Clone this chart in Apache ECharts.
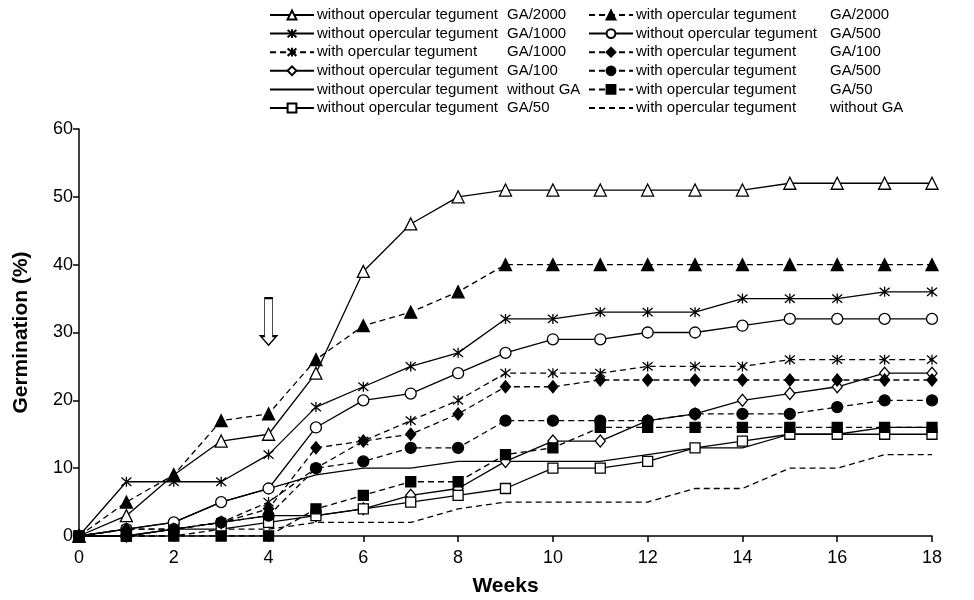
<!DOCTYPE html>
<html>
<head>
<meta charset="utf-8">
<script src="https://cdn.jsdelivr.net/npm/echarts@6/dist/echarts.min.js"></script>
<style>html,body{margin:0;padding:0;background:#fff}#c{width:974px;height:600px}</style>
</head>
<body>
<div id="c"></div>
<script>
const weeks = [0,1,2,3,4,5,6,7,8,9,10,11,12,13,14,15,16,17,18];
const xTicks = [0,2,4,6,8,10,12,14,16,18];
const yTicks = [0,10,20,30,40,50,60];

const withoutGA2000 = [0,3,9,14,15,24,39,46,50,51,51,51,51,51,51,52,52,52,52];
const withGA2000    = [0,5,9,17,18,26,31,33,36,40,40,40,40,40,40,40,40,40,40];
const withoutGA1000 = [0,8,8,8,12,19,22,25,27,32,32,33,33,33,35,35,35,36,36];
const withoutGA500  = [0,1,2,5,7,16,20,21,24,27,29,29,30,30,31,32,32,32,32];
const withGA1000    = [0,1,1,2,5,10,14,17,20,24,24,24,25,25,25,26,26,26,26];
const withGA100     = [0,1,1,2,4,13,14,15,18,22,22,23,23,23,23,23,23,23,23];
const withoutGA100  = [0,0,1,2,3,3,4,6,7,11,14,14,17,18,20,21,22,24,24];
const withGA500     = [0,0,1,2,3,10,11,13,13,17,17,17,17,18,18,18,19,20,20];
const withoutNoGA   = [0,1,2,5,7,9,10,10,11,11,11,11,12,13,13,15,15,16,16];
const withGA50      = [0,0,0,0,0,4,6,8,8,12,13,16,16,16,16,16,16,16,16];
const withoutGA50   = [0,0,1,1,2,3,4,5,6,7,10,10,11,13,14,15,15,15,15];
const withNoGA      = [0,0,0,1,1,2,2,2,4,5,5,5,5,7,7,10,10,12,12];

const WO = 'without opercular tegument';
const WI = 'with opercular tegument';
const arrowAt = [4, 31.6];

const STAR = 'path://M0,0L10,10M10,0L0,10M5,-1L5,11';
const ARROW = 'path://M4,0L12,0L12,38L16,38L8,47L0,38L4,38Z';

function mk(treat, dose, vals, symbol, size, filled, dashed) {
  const none = !symbol;
  return {
    name: treat + '|' + dose,
    type: 'line',
    data: weeks.map((w, i) => [w, vals[i]]),
    symbol: symbol || 'none',
    symbolSize: size,
    showSymbol: !none,
    lineStyle: {color: '#000', width: 1.3, type: dashed ? [6, 4] : 'solid'},
    itemStyle: none
      ? {color: 'rgba(0,0,0,0)', borderColor: 'rgba(0,0,0,0)', borderWidth: 0}
      : {color: filled ? '#000' : '#fff', borderColor: '#000', borderWidth: 1.3},
    emphasis: {disabled: true},
    animation: false,
    z: 2
  };
}

const series = [
  mk(WO, 'GA/2000', withoutGA2000, 'triangle', 12, false, false),
  mk(WO, 'GA/1000', withoutGA1000, STAR, 10, true, false),
  mk(WI, 'GA/1000', withGA1000, STAR, 10, true, true),
  mk(WO, 'GA/100', withoutGA100, 'diamond', [10, 12], false, false),
  mk(WO, 'without GA', withoutNoGA, null, 0, false, false),
  mk(WO, 'GA/50', withoutGA50, 'rect', 10, false, false),
  mk(WI, 'GA/2000', withGA2000, 'triangle', 12, true, true),
  mk(WO, 'GA/500', withoutGA500, 'circle', 11, false, false),
  mk(WI, 'GA/100', withGA100, 'diamond', [10, 12], true, true),
  mk(WI, 'GA/500', withGA500, 'circle', 11, true, true),
  mk(WI, 'GA/50', withGA50, 'rect', 10, true, true),
  mk(WI, 'without GA', withNoGA, null, 0, false, true)
];
series[0].markPoint = {
  symbol: ARROW, symbolSize: [16, 47], symbolKeepAspect: false,
  data: [{coord: arrowAt}],
  itemStyle: {color: '#fff', borderColor: '#000', borderWidth: 1.2},
  label: {show: false}, silent: true
};

const names = series.map(s => s.name);
function legendFmt(n) {
  const p = n.split('|');
  return '{a|' + p[0] + '}{b|' + p[1] + '}';
}
function legendCfg(left, list, aw) {
  return {
    orient: 'vertical', left: left, top: 1, itemGap: 0.6,
    itemWidth: 44, itemHeight: 11,
    data: list, selectedMode: false,
    formatter: legendFmt,
    textStyle: {
      fontFamily: 'Liberation Sans', fontSize: 15, color: '#000', lineHeight: 18,
      padding: [0, 0, 0, -2],
      rich: {
        a: {width: aw, fontFamily: 'Liberation Sans', fontSize: 15, color: '#000', lineHeight: 18},
        b: {fontFamily: 'Liberation Sans', fontSize: 15, color: '#000', lineHeight: 18}
      }
    }
  };
}

const axisFont = {fontFamily: 'Liberation Sans', fontSize: 18, color: '#000'};
const titleFont = {fontFamily: 'Liberation Sans', fontSize: 21, fontWeight: 'bold', color: '#000'};

const chart = echarts.init(document.getElementById('c'), null, {renderer: 'canvas'});
chart.setOption({
  animation: false,
  backgroundColor: '#fff',
  grid: {left: 79, right: 42, top: 129, bottom: 64, containLabel: false, outerBoundsMode: 'none'},
  legend: [
    legendCfg(264, names.slice(0, 6), 190),
    legendCfg(583, names.slice(6), 194)
  ],
  xAxis: {
    type: 'value', min: xTicks[0], max: xTicks[xTicks.length - 1], interval: 2,
    name: 'Weeks', nameLocation: 'middle', nameGap: 40, nameTextStyle: titleFont,
    axisLine: {show: true, onZero: false, lineStyle: {color: '#000', width: 1.5}},
    axisTick: {show: true, length: 6, lineStyle: {color: '#000', width: 1.5}},
    axisLabel: Object.assign({margin: 13}, axisFont),
    splitLine: {show: false}
  },
  yAxis: {
    type: 'value', min: yTicks[0], max: yTicks[yTicks.length - 1], interval: 10,
    name: 'Germination (%)', nameLocation: 'middle', nameGap: 47, nameTextStyle: titleFont,
    axisLine: {show: true, onZero: false, lineStyle: {color: '#000', width: 1.5}},
    axisTick: {show: true, length: 6, lineStyle: {color: '#000', width: 1.5}},
    axisLabel: Object.assign({margin: 6}, axisFont),
    splitLine: {show: false}
  },
  series: series
});
</script>
</body>
</html>
